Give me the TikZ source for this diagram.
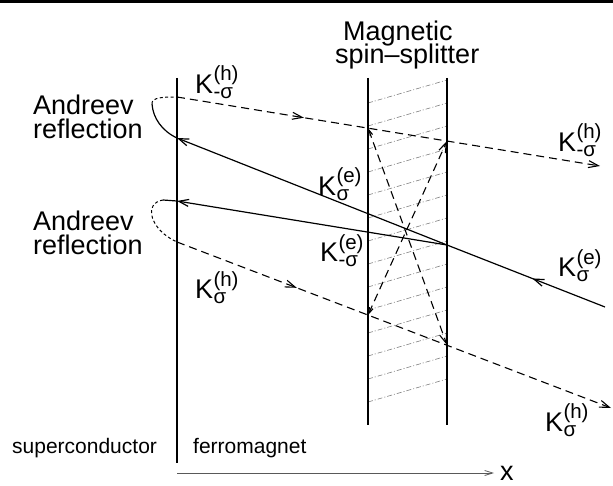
\documentclass[tikz,border=0pt]{standalone}
\usepackage{fontspec}
\setmainfont{Liberation Sans}
\usetikzlibrary{arrows.meta,decorations.markings}
\newcommand{\Klab}[2]{K\kern0.3pt\rlap{\raisebox{13pt}{\fontsize{20.5}{20}\selectfont(#1)}}{\raisebox{-5pt}{\fontsize{20.5}{20}\selectfont#2}}}
\begin{document}
\begin{tikzpicture}[x=1pt,y=-1pt,
  ray/.style={line width=1.2pt},
  hray/.style={line width=1.1pt, dash pattern=on 8pt off 5pt},
  fine/.style={line width=1.0pt, dash pattern=on 3pt off 2.5pt},
  wall/.style={line width=2.6pt},
  hatch/.style={line width=0.6pt, gray, dash pattern=on 5pt off 2pt on 1pt off 2pt},
  tip/.style={-{Straight Barb[length=10pt,width=7pt]}},
  dtip/.style={{Straight Barb[length=6pt,width=4pt]}-{Straight Barb[length=10pt,width=7pt]}},
  midarrow/.style={postaction={decorate}, decoration={markings, mark=at position #1 with {\arrow{Straight Barb[length=10pt,width=7pt]}}}},
  lab/.style={inner sep=0pt, anchor=base west, font=\fontsize{27}{30}\selectfont},
  small/.style={inner sep=0pt, anchor=base west, font=\fontsize{21}{24}\selectfont},
  axis/.style={line width=0.8pt, gray!70!black, -{Straight Barb[length=8pt,width=5pt]}}]
\useasboundingbox (0,0) rectangle (613,486);
% top rule
\coordinate (tl) at (0,1.5); \coordinate (tr) at (613,1.5);
\draw[line width=3pt] (tl) -- (tr);
% walls
\coordinate (ifT) at (177,78); \coordinate (ifB) at (177,463);
\coordinate (s1T) at (368,78); \coordinate (s1B) at (368,425);
\coordinate (s2T) at (447,78); \coordinate (s2B) at (447,425);
\foreach \k in {0,...,13} \draw[hatch] (368,{103+23*\k}) -- (447,{80+23*\k});
\draw[wall] (ifT) -- (ifB);
\draw[wall] (s1T) -- (s1B);
\draw[wall] (s2T) -- (s2B);
% ray points
\coordinate (Ein) at (605,307);
\coordinate (P) at (447,245);
\coordinate (A1) at (177,138);
\coordinate (A2) at (177,201);
\coordinate (AU) at (152,104);
\coordinate (AL) at (163,200);
\coordinate (U0) at (177,97);
\coordinate (Uend) at (600,166);
\coordinate (L0) at (177,242);
\coordinate (Lend) at (611,408);
\coordinate (UL) at (368,128); \coordinate (UR) at (447,141);
\coordinate (LL) at (368,315); \coordinate (LR) at (447,345);
% electron rays
\draw[ray, midarrow=0.46] (Ein) -- (P);
\draw[ray, tip] (P) -- (A1);
\draw[ray, tip] (P) -- (A2);
% Andreev loops
\draw[ray] (A1) .. controls (162,131) and (153,118) .. (AU);
\draw[fine] (AU) .. controls (151,97) and (165,97) .. (U0);
\draw[ray] (A2) .. controls (170,200) .. (AL);
\draw[fine] (AL) .. controls (143,203) and (150,230) .. (L0);
% hole rays
\draw[hray, midarrow=0.30, tip] (U0) -- (Uend);
\draw[hray, midarrow=0.276, tip] (L0) -- (Lend);
% inner crossing
\draw[hray, dtip] (UL) -- (LR);
\draw[hray, dtip] (LL) -- (UR);
% axis
\coordinate (ax0) at (177,473); \coordinate (ax1) at (494,473);
\draw[axis] (ax0) -- (ax1);
% labels
\node[lab] (and1) at (33,115) {Andreev};
\node[lab] (ref1) at (33,139) {reflection};
\node[lab] (and2) at (33,231) {Andreev};
\node[lab] (ref2) at (33,255) {reflection};
\node[lab] (mag) at (343,41) {Magnetic};
\node[lab] (spl) at (335,64) {spin–splitter};
\node[small] (sc) at (12,453) {superconductor};
\node[small] (fm) at (193,453) {ferromagnet};
\node[lab] (xl) at (500,480) {x};
\node[lab] (k1) at (195,94) {\Klab{h}{-σ}};
\node[lab] (k2) at (318,196) {\Klab{e}{σ}};
\node[lab] (k3) at (320,262) {\Klab{e}{-σ}};
\node[lab] (k4) at (558,152) {\Klab{h}{-σ}};
\node[lab] (k5) at (558,277) {\Klab{e}{σ}};
\node[lab] (k6) at (195,299) {\Klab{h}{σ}};
\node[lab] (k7) at (545,431) {\Klab{h}{σ}};
\end{tikzpicture}
\end{document}
